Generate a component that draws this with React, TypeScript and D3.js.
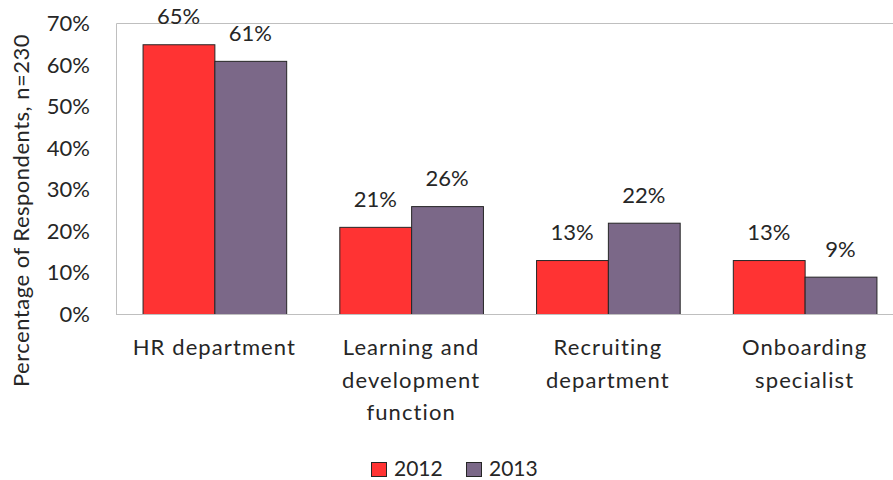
import React, { useEffect, useRef } from "react";
import * as d3 from "d3";

const categories: string[][] = [
  ["HR department"],
  ["Learning and", "development", "function"],
  ["Recruiting", "department"],
  ["Onboarding", "specialist"],
];
const seriesNames = ["2012", "2013"];
const values2012 = [65, 21, 13, 13];
const values2013 = [61, 26, 22, 9];
const yTicks = [0, 10, 20, 30, 40, 50, 60, 70];
const colors = ["#FF3333", "#7B6888"];

const W = 893;
const H = 480;
const FONT = "Lato, 'Open Sans', sans-serif";

export default function App() {
  const ref = useRef<SVGSVGElement | null>(null);
  useEffect(() => {
    const svg = d3.select(ref.current);
    svg.selectAll("*").remove();
    const left = 116, right = 903, top = 23.5, bottom = 314;
    const keys = categories.map((c) => c.join(" "));
    const x0 = d3.scaleBand<string>().domain(keys).range([left, right]).paddingInner(0.27).paddingOuter(0.135);
    const x1 = d3.scaleBand<string>().domain(seriesNames).range([0, x0.bandwidth()]);
    const y = d3.scaleLinear().domain([0, 70]).range([bottom, top]);
    const series = [values2012, values2013];

    // plot border (left, top, bottom)
    svg.append("path")
      .attr("d", `M${left + 0.5},${bottom + 0.5}V${top}H${right}`)
      .attr("fill", "none").attr("stroke", "#BFBFBF").attr("stroke-width", 1);

    // y tick labels
    svg.append("g").selectAll("text").data(yTicks).join("text")
      .attr("x", 90).attr("y", (d) => y(d)).attr("dy", "0.36em")
      .attr("text-anchor", "end").attr("font-family", FONT).attr("font-size", 22).attr("fill", "#262626")
      .text((d) => `${d}%`);

    // bars
    seriesNames.forEach((s, si) => {
      const g = svg.append("g");
      g.selectAll("rect").data(series[si]).join("rect")
        .attr("x", (_, i) => x0(keys[i])! + x1(s)! + 0.5)
        .attr("y", (d) => y(d) + 0.5)
        .attr("width", x1.bandwidth())
        .attr("height", (d) => bottom - y(d))
        .attr("fill", colors[si]).attr("stroke", "#262626").attr("stroke-width", 1);
      g.selectAll("text").data(series[si]).join("text")
        .attr("x", (_, i) => x0(keys[i])! + x1(s)! + x1.bandwidth() / 2)
        .attr("y", (d) => y(d) - 20)
        .attr("text-anchor", "middle").attr("font-family", FONT).attr("font-size", 22).attr("fill", "#262626")
        .text((d) => `${d}%`);
    });

    // bottom axis line on top of bars
    svg.append("line").attr("x1", left).attr("x2", right).attr("y1", bottom + 0.5).attr("y2", bottom + 0.5)
      .attr("stroke", "#BFBFBF");

    // category labels
    categories.forEach((lines, i) => {
      const cx = x0(keys[i])! + x0.bandwidth() / 2;
      const t = svg.append("text").attr("text-anchor", "middle").attr("font-family", FONT)
        .attr("font-size", 22).attr("letter-spacing", 1.1).attr("fill", "#262626");
      lines.forEach((l, li) => {
        t.append("tspan").attr("x", cx).attr("y", 355 + li * 32.5).text(l);
      });
    });

    // y axis title
    svg.append("text")
      .attr("transform", `translate(29,210.5) rotate(-90)`)
      .attr("text-anchor", "middle").attr("font-family", FONT).attr("font-size", 22)
      .attr("letter-spacing", 0.5).attr("fill", "#262626")
      .text("Percentage of Respondents, n=230");

    // legend
    const legX = [371, 466];
    seriesNames.forEach((s, si) => {
      svg.append("rect").attr("x", legX[si] + 0.5).attr("y", 462.5).attr("width", 15).attr("height", 14)
        .attr("fill", colors[si]).attr("stroke", "#262626");
      svg.append("text").attr("x", legX[si] + 23).attr("y", 475.5).attr("font-family", FONT)
        .attr("font-size", 21).attr("fill", "#262626").text(s);
    });
  }, []);
  return (
    <svg ref={ref} width={W} height={H} style={{ position: "absolute", left: 0, top: 0, background: "#fff" }} />
  );
}
